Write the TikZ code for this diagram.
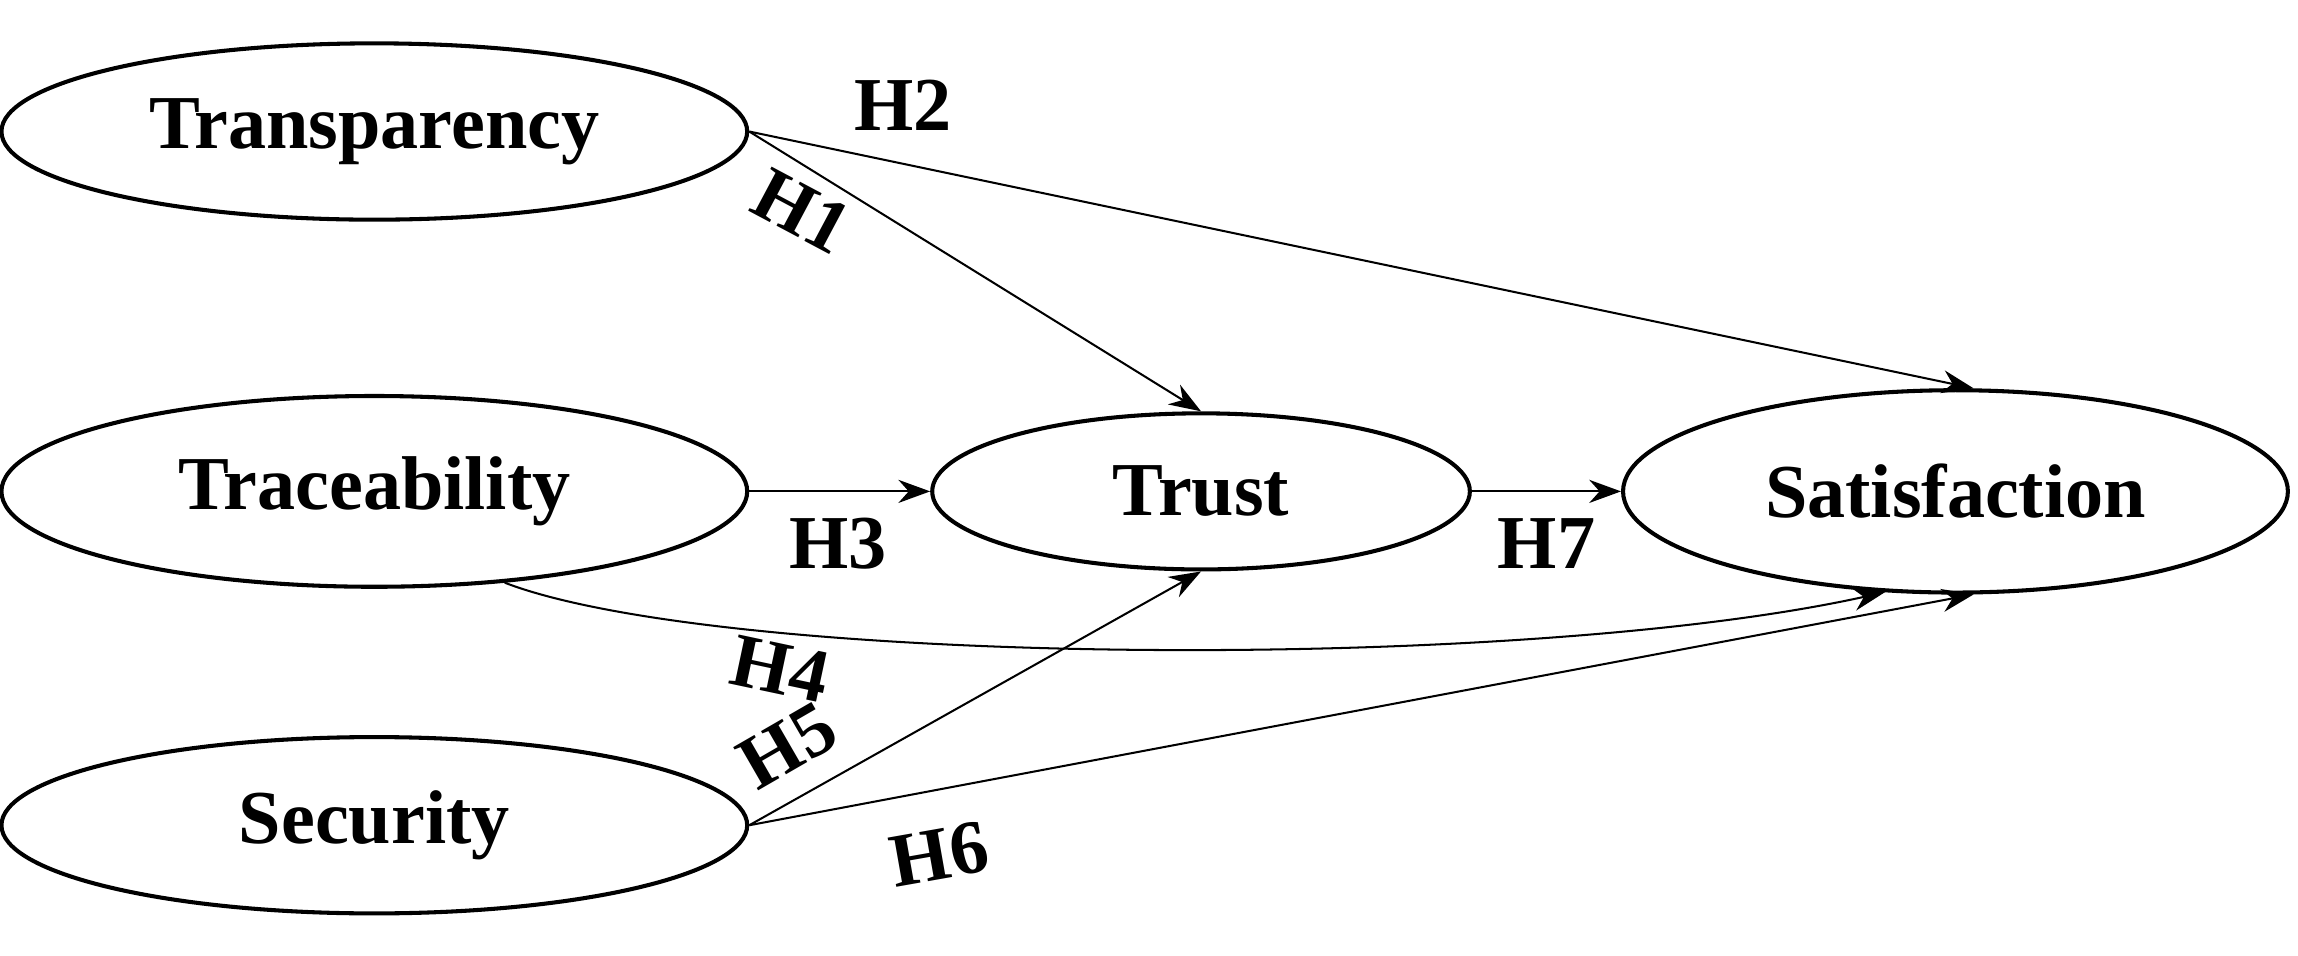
\documentclass[tikz,border=0pt]{standalone}
\usepackage{fontspec}
\setmainfont{Liberation Serif}
\usetikzlibrary{shapes.geometric,arrows.meta}
\begin{document}
\begin{tikzpicture}
\tikzstyle{construct} = [ellipse, draw=black, thick, inner sep=0pt, font=\fontsize{15}{17}\selectfont\bfseries]
\tikzstyle{line} = [thin, -{Stealth[length=2.2mm,width=1.6mm]}]
\tikzstyle{hyp} = [font=\fontsize{15}{17}\selectfont\bfseries]
\useasboundingbox (0,0) rectangle (15.9,6.61);
\node(transp)[construct, minimum width=5.16cm, minimum height=1.22cm] at (2.59,5.70) {Transparency};
\node(trace)[construct, minimum width=5.16cm, minimum height=1.32cm] at (2.59,3.21) {Traceability};
\node(secur)[construct, minimum width=5.16cm, minimum height=1.22cm] at (2.59,0.90) {Security};
\node(trust)[construct, minimum width=3.72cm, minimum height=1.08cm] at (8.31,3.21) {Trust};
\node(satis)[construct, minimum width=4.60cm, minimum height=1.40cm] at (13.53,3.21) {Satisfaction};
\draw[line] (transp.east) -- (trust.north);
\draw[line] (transp.east) -- (satis.80);
\draw[line] (trace.east) -- (trust.west);
\draw[line] (trust.east) -- (satis.west);
\draw[line] (trace.-35) .. controls (5.0,2.0) and (10.5,1.95) .. (satis.-125);
\draw[line] (secur.east) -- (trust.south);
\draw[line] (secur.east) -- (satis.-80);
\node(h2)[hyp] at (6.25,5.88) {H2};
\node(h1)[hyp, rotate=-28] at (5.55,5.15) {H1};
\node(h3)[hyp] at (5.80,2.85) {H3};
\node(h7)[hyp] at (10.70,2.85) {H7};
\node(h4)[hyp, rotate=-12] at (5.40,1.98) {H4};
\node(h5)[hyp, rotate=30] at (5.45,1.45) {H5};
\node(h6)[hyp, rotate=10] at (6.50,0.70) {H6};
\end{tikzpicture}
\end{document}
